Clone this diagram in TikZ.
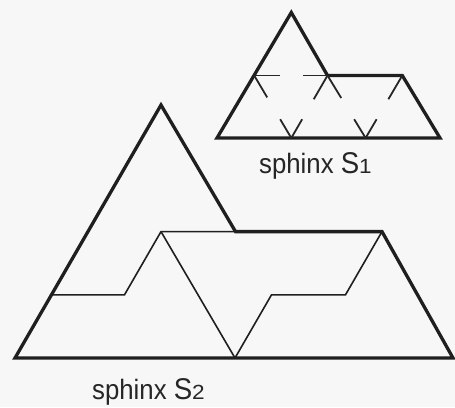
\documentclass[tikz,border=0pt]{standalone}
\usepackage{fontspec}
\setmainfont{Liberation Sans}[FakeStretch=0.92]
\newfontfamily\digitfont{Liberation Sans}[FakeStretch=1.1]
\usetikzlibrary{calc}
\tikzset{
  outline/.style={line width=3.3pt, draw=black!88, line join=miter},
  inner/.style={line width=1.6pt, draw=black!88},
  stub/.style={line width=1.8pt, draw=black!85},
  lab/.style={anchor=base west, inner sep=0pt, text=black!85}
}
\newcommand{\sphlabel}[1]{{\fontsize{28}{28}\selectfont sphinx }{\fontsize{30}{30}\selectfont S}{\digitfont\fontsize{20.5}{20.5}\selectfont #1}}
\begin{document}
\begin{tikzpicture}[x=1pt,y=-1pt]
  \fill[white!97!black] (0,0) rectangle (455,407);
  \useasboundingbox (0,0) rectangle (455,407);
  % ---- sphinx S1 ----
  \coordinate (a0) at (217,138);
  \coordinate (aApex) at (291.3,12.5);
  \coordinate (aN) at (327.5,75.5);
  \coordinate (aTR) at (402.3,75.5);
  \coordinate (a3) at (440,138);
  \coordinate (aL1) at (254.2,75.5);
  \coordinate (aB1) at (291.3,138);
  \coordinate (aB2) at (365.6,138);
  \draw[outline] (a0) -- (aApex) -- (aN) -- (aTR) -- (a3) -- cycle;
  \draw[stub] (aL1) -- ($(aL1)!0.35!(aN)$);
  \draw[stub] (aL1) -- ($(aL1)!0.35!(aB1)$);
  \draw[stub] (aN) -- ($(aN)!0.34!(aL1)$);
  \draw[stub] (aN) -- ($(aN)!0.38!(aB1)$);
  \draw[stub] (aN) -- ($(aN)!0.36!(aB2)$);
  \draw[stub] (aTR) -- ($(aTR)!0.38!(aB2)$);
  \draw[stub] (aB1) -- ($(aB1)!0.3!(aL1)$);
  \draw[stub] (aB1) -- ($(aB1)!0.3!(aN)$);
  \draw[stub] (aB2) -- ($(aB2)!0.3!(aN)$);
  \draw[stub] (aB2) -- ($(aB2)!0.3!(aTR)$);
  \node[lab] (lab1) at (259,173) {\sphlabel{1}};
  % ---- sphinx S2 ----
  \coordinate (b0) at (15,358);
  \coordinate (bApex) at (161,105);
  \coordinate (bN) at (235.5,231.6);
  \coordinate (bTR) at (382,231.6);
  \coordinate (b3) at (453,358);
  \coordinate (bL) at (51.5,294.8);
  \coordinate (bP) at (124.5,294.8);
  \coordinate (bQ) at (161,231.6);
  \coordinate (bM) at (235,358);
  \coordinate (bR) at (271.5,294.8);
  \coordinate (bS) at (345.5,294.8);
  \draw[inner] (bL) -- (bP) -- (bQ) -- (bN);
  \draw[inner] (bQ) -- (bM);
  \draw[inner] (bM) -- (bR) -- (bS) -- (bTR);
  \draw[outline] (b0) -- (bApex) -- (bN) -- (bTR) -- (b3) -- cycle;
  \node[lab] (lab2) at (92,399) {\sphlabel{2}};
\end{tikzpicture}
\end{document}
